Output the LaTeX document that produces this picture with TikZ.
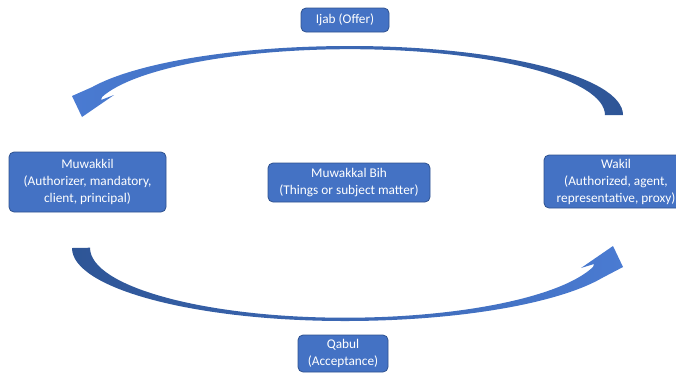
\documentclass[tikz,border=0pt]{standalone}
\usepackage{fontspec}
\setmainfont{Carlito}
\definecolor{boxfill}{HTML}{4472C4}
\definecolor{boxline}{HTML}{2F528F}
\definecolor{arrlight}{HTML}{4A7BD2}
\definecolor{arrdark}{HTML}{2E5596}
\begin{document}
\begin{tikzpicture}[x=1pt,y=-1pt,
  box/.style={draw=boxline, line width=0.8pt, fill=boxfill, rounded corners=5pt,
    text=white, align=center, font=\fontsize{13.3}{17}\selectfont, inner sep=0pt}]
\useasboundingbox (0,0) rectangle (676,373);
\clip (0,0) rectangle (676,373);
% top curved arrow (Wakil -> Muwakkil)
\shade[left color=arrlight, right color=arrdark]
  (623,115) arc[start angle=0,end angle=-90,x radius=273,y radius=69]
  arc[start angle=-90,end angle=-156.2,x radius=282,y radius=69]
  -- (72,96) -- (82,117) -- (114,95) -- (101,100) -- (102,97)
  arc[start angle=-164,end angle=-90,x radius=258,y radius=66]
  arc[start angle=-90,end angle=0,x radius=255,y radius=66]
  -- cycle;
% bottom curved arrow (Muwakkil -> Wakil)
\shade[left color=arrdark, right color=arrlight]
  (72,248) arc[start angle=180,end angle=90,x radius=273,y radius=73]
  arc[start angle=90,end angle=23.8,x radius=282,y radius=73]
  -- (623,267) -- (613,246) -- (581,268) -- (594,264) -- (593,267)
  arc[start angle=16,end angle=90,x radius=258,y radius=70]
  arc[start angle=90,end angle=180,x radius=255,y radius=70]
  -- cycle;
\node[box, minimum width=88pt, minimum height=24pt] (ijab) at (345,20) {Ijab (Offer)};
\node[box, minimum width=157pt, minimum height=60pt] (muwakkil) at (87.5,182) {Muwakkil\\(Authorizer, mandatory,\\client, principal)};
\node[box, minimum width=162pt, minimum height=39pt] (bih) at (349,182.5) {Muwakkal Bih\\(Things or subject matter)};
\node[box, minimum width=144pt, minimum height=53pt] (wakil) at (616,181.5) {Wakil\\(Authorized, agent,\\representative, proxy)};
\node[box, minimum width=90pt, minimum height=37pt] (qabul) at (343,353.5) {Qabul\\(Acceptance)};
\end{tikzpicture}
\end{document}
